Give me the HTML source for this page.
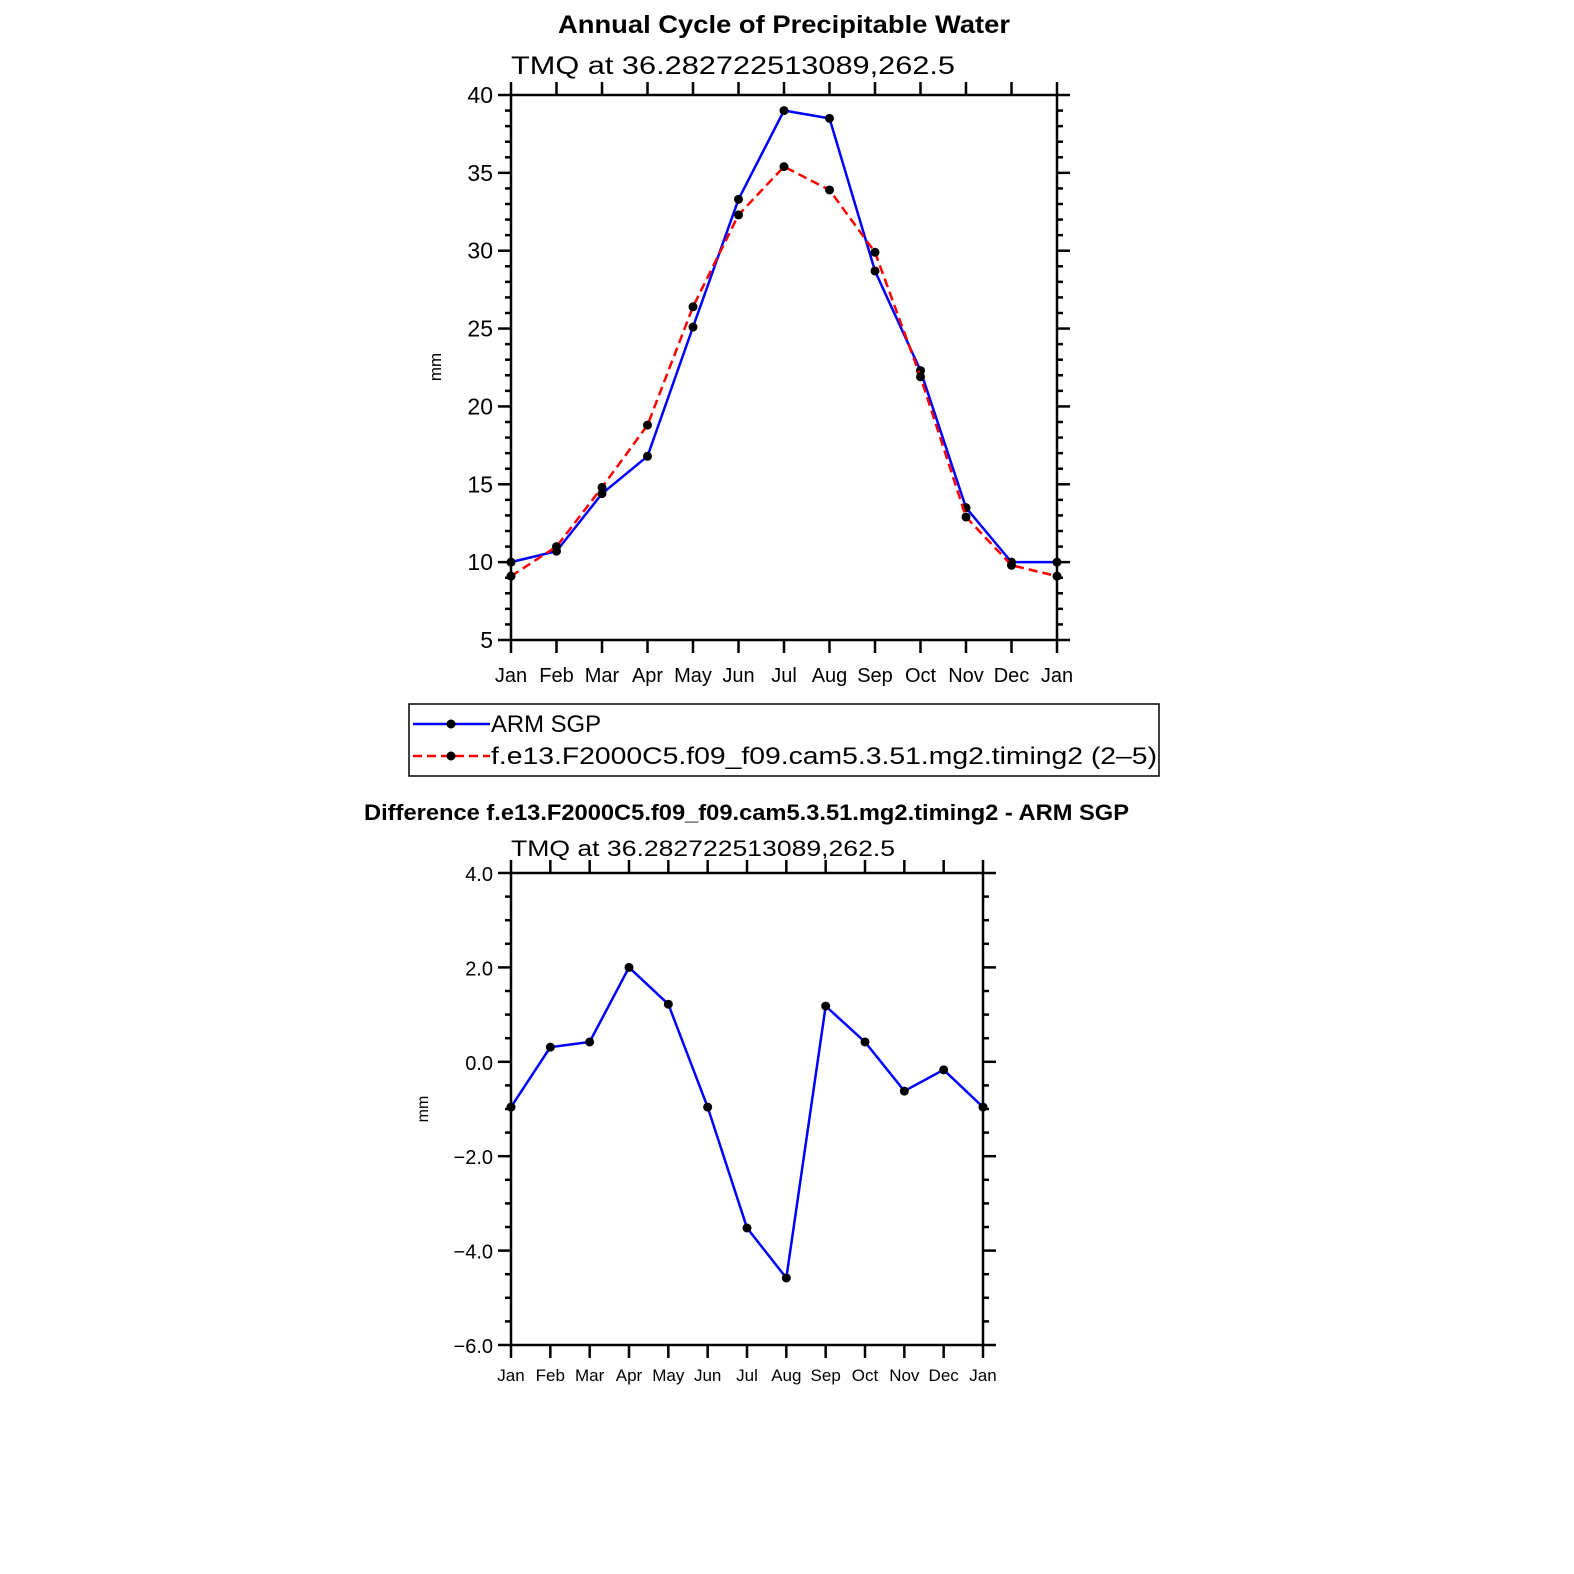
<!DOCTYPE html>
<html><head><meta charset="utf-8"><style>
body{margin:0;background:#fff}
svg{display:block}
text{font-family:"Liberation Sans",sans-serif;fill:#000}
</style></head><body>
<svg id="c" width="1574" height="1574" viewBox="0 0 1574 1574">
<text x="558" y="33" textLength="452" lengthAdjust="spacingAndGlyphs" font-size="25" font-weight="bold">Annual Cycle of Precipitable Water</text>
<text x="511" y="74" textLength="444" lengthAdjust="spacingAndGlyphs" font-size="25">TMQ  at  36.282722513089,262.5</text>
<text transform="translate(441,367) rotate(-90)" text-anchor="middle" font-size="17">mm</text>
<text x="364" y="820" textLength="765" lengthAdjust="spacingAndGlyphs" font-size="22" font-weight="bold">Difference f.e13.F2000C5.f09_f09.cam5.3.51.mg2.timing2 - ARM SGP</text>
<text x="511" y="856" textLength="384" lengthAdjust="spacingAndGlyphs" font-size="22">TMQ  at  36.282722513089,262.5</text>
<text transform="translate(428,1109) rotate(-90)" text-anchor="middle" font-size="16">mm</text>
<g>
<rect x="409" y="704" width="750" height="72" fill="none" stroke="#000" stroke-width="1.5"/>
<line x1="413" y1="724" x2="490" y2="724" stroke="#00f" stroke-width="2.5"/>
<circle cx="451" cy="724" r="4.5"/>
<text x="491" y="732" textLength="110" lengthAdjust="spacingAndGlyphs" font-size="24">ARM  SGP</text>
<line x1="413" y1="756" x2="490" y2="756" stroke="#f00" stroke-width="2.5" stroke-dasharray="9,5"/>
<circle cx="451" cy="756" r="4.5"/>
<text x="491" y="764" textLength="666" lengthAdjust="spacingAndGlyphs" font-size="24">f.e13.F2000C5.f09_f09.cam5.3.51.mg2.timing2  (2–5)</text>
</g>
</svg>
<script>
const months=["Jan","Feb","Mar","Apr","May","Jun","Jul","Aug","Sep","Oct","Nov","Dec","Jan"];
const armSGP=[10.0,10.7,14.4,16.8,25.1,33.3,39.0,38.5,28.7,22.3,13.5,10.0,10.0];
const model=[9.1,11.0,14.8,18.8,26.4,32.3,35.4,33.9,29.9,21.9,12.9,9.8,9.1];
const diff=[-0.96,0.31,0.42,2.0,1.22,-0.96,-3.52,-4.58,1.18,0.42,-0.62,-0.17,-0.96];
const topTicks=[5,10,15,20,25,30,35,40];
const botTicks=[-6,-4,-2,0,2,4];
const botTickLabels=["−6.0","−4.0","−2.0","0.0","2.0","4.0"];
const NS="http://www.w3.org/2000/svg";
const svg=document.getElementById('c');
function mk(t,a,p){const e=document.createElementNS(NS,t);for(const k in a)e.setAttribute(k,a[k]);(p||svg).appendChild(e);return e;}
function panel(o){
  const g=mk('g',{});
  
  
  const X=i=>o.x0+(o.x1-o.x0)*i/(months.length-1);
  const Y=v=>o.y1-(v-o.vmin)*(o.y1-o.y0)/(o.vmax-o.vmin);
  o.series.forEach(s=>{
    const pts=s.vals.map((v,i)=>X(i)+","+Y(v)).join(" ");
    const pl=mk('polyline',{points:pts,fill:'none',stroke:s.color,'stroke-width':2.5,'stroke-dasharray':s.dash||'none'},g);
    
    
    s.vals.forEach((v,i)=>{
      const c=mk('circle',{cx:X(i),cy:Y(v),r:4.5,fill:'#000'},g);
      
      
    });
  });
  const fr=mk('rect',{x:o.x0,y:o.y0,width:o.x1-o.x0,height:o.y1-o.y0,fill:'none',stroke:'#000','stroke-width':2.5},g);
  
  
  for(let v=o.vmin;v<=o.vmax+1e-9;v+=o.minor){
    const y=Y(v);const maj=Math.abs((v-o.vmin)/o.major-Math.round((v-o.vmin)/o.major))<1e-6;
    const L=maj?13:6;
    mk('line',{x1:o.x0-L,y1:y,x2:o.x0,y2:y,stroke:'#000','stroke-width':2.5},g);
    mk('line',{x1:o.x1,y1:y,x2:o.x1+L,y2:y,stroke:'#000','stroke-width':2.5},g);
  }
  o.ticks.forEach((v,i)=>{
    const t=mk('text',{x:o.x0-18,y:Y(v)+8,'text-anchor':'end','font-size':o.fs},g);
    t.textContent=o.tickLabels[i];
    
    
  });
  months.forEach((m,i)=>{
    const x=X(i);
    mk('line',{x1:x,y1:o.y1,x2:x,y2:o.y1+13,stroke:'#000','stroke-width':2.5},g);
    mk('line',{x1:x,y1:o.y0-13,x2:x,y2:o.y0,stroke:'#000','stroke-width':2.5},g);
    const t=mk('text',{x:x,y:o.y1+o.lblOff,'text-anchor':'middle','font-size':o.xfs},g);
    t.textContent=m;
    
    
  });
}
panel({name:'top-chart',x0:511,x1:1057,y0:95,y1:640,vmin:5,vmax:40,major:5,minor:1,ticks:topTicks,tickLabels:topTicks.map(String),fs:23,xfs:20,lblOff:42,
  series:[{name:'arm-sgp',vals:armSGP,color:'#00f'},{name:'model',vals:model,color:'#f00',dash:'9,5'}]});
panel({name:'bottom-chart',x0:511,x1:983,y0:873,y1:1345,vmin:-6,vmax:4,major:2,minor:0.5,ticks:botTicks,tickLabels:botTickLabels,fs:20,xfs:17,lblOff:36,
  series:[{name:'difference',vals:diff,color:'#00f'}]});
</script>
</body></html>
